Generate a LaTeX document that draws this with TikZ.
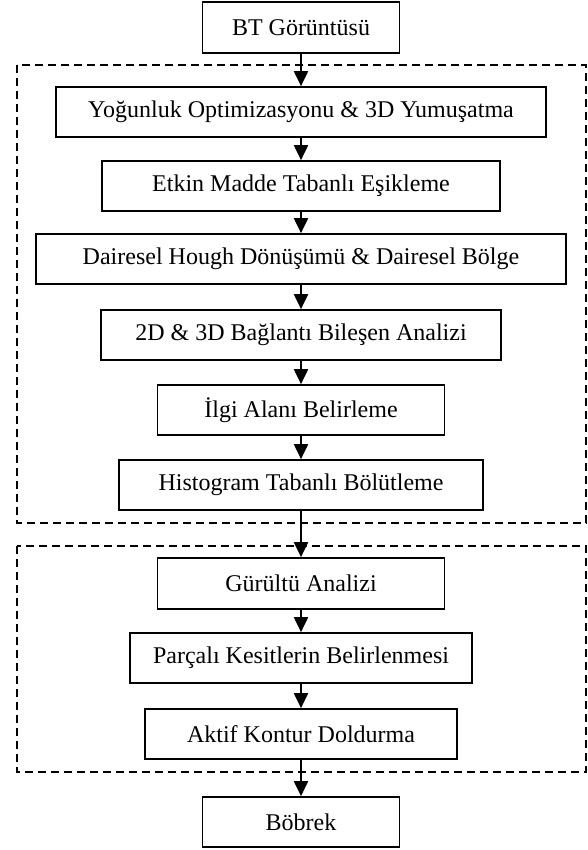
\documentclass[tikz,border=0pt]{standalone}
\usepackage{fontspec}
\setmainfont{Liberation Serif}
\usetikzlibrary{arrows.meta}
\begin{document}
\begin{tikzpicture}[x=1pt,y=-1pt,
  stepbox/.style={draw=black, line width=1.7pt, inner sep=0pt, minimum height=50pt,
    font=\fontsize{24}{28}\selectfont, text=black},
  grp/.style={draw=black, line width=1.5pt, dash pattern=on 8pt off 5pt},
  arr/.style={draw=black, line width=2pt, -{Triangle[length=15pt,width=14pt]}}]
\useasboundingbox (0,0) rectangle (587,850);
\draw[grp] (17,65) rectangle (586,523);
\draw[grp] (17,546) rectangle (586,772);
\node[stepbox, minimum width=197pt, minimum height=51pt] (bt) at (301,27.5) {BT Görüntüsü};
\node[stepbox, minimum width=490pt] (yog) at (301,112) {Yoğunluk Optimizasyonu \& 3D Yumuşatma};
\node[stepbox, minimum width=398pt] (etk) at (301,186) {Etkin Madde Tabanlı Eşikleme};
\node[stepbox, minimum width=530pt] (dai) at (301,259) {Dairesel Hough Dönüşümü \& Dairesel Bölge};
\node[stepbox, minimum width=400pt] (bag) at (301,335) {2D \& 3D Bağlantı Bileşen Analizi};
\node[stepbox, minimum width=287pt] (ilg) at (301,410) {İlgi Alanı Belirleme};
\node[stepbox, minimum width=364pt] (his) at (301,485) {Histogram Tabanlı Bölütleme};
\node[stepbox, minimum width=287pt, minimum height=51pt] (gur) at (301,583.5) {Gürültü Analizi};
\node[stepbox, minimum width=342pt] (par) at (301,658) {Parçalı Kesitlerin Belirlenmesi};
\node[stepbox, minimum width=312pt] (akt) at (301,734) {Aktif Kontur Doldurma};
\node[stepbox, minimum width=197pt] (bob) at (301,822) {Böbrek};
\draw[arr] (bt) -- (yog);
\draw[arr] (yog) -- (etk);
\draw[arr] (etk) -- (dai);
\draw[arr] (dai) -- (bag);
\draw[arr] (bag) -- (ilg);
\draw[arr] (ilg) -- (his);
\draw[arr] (his) -- (gur);
\draw[arr] (gur) -- (par);
\draw[arr] (par) -- (akt);
\draw[arr] (akt) -- (bob);
\end{tikzpicture}
\end{document}
